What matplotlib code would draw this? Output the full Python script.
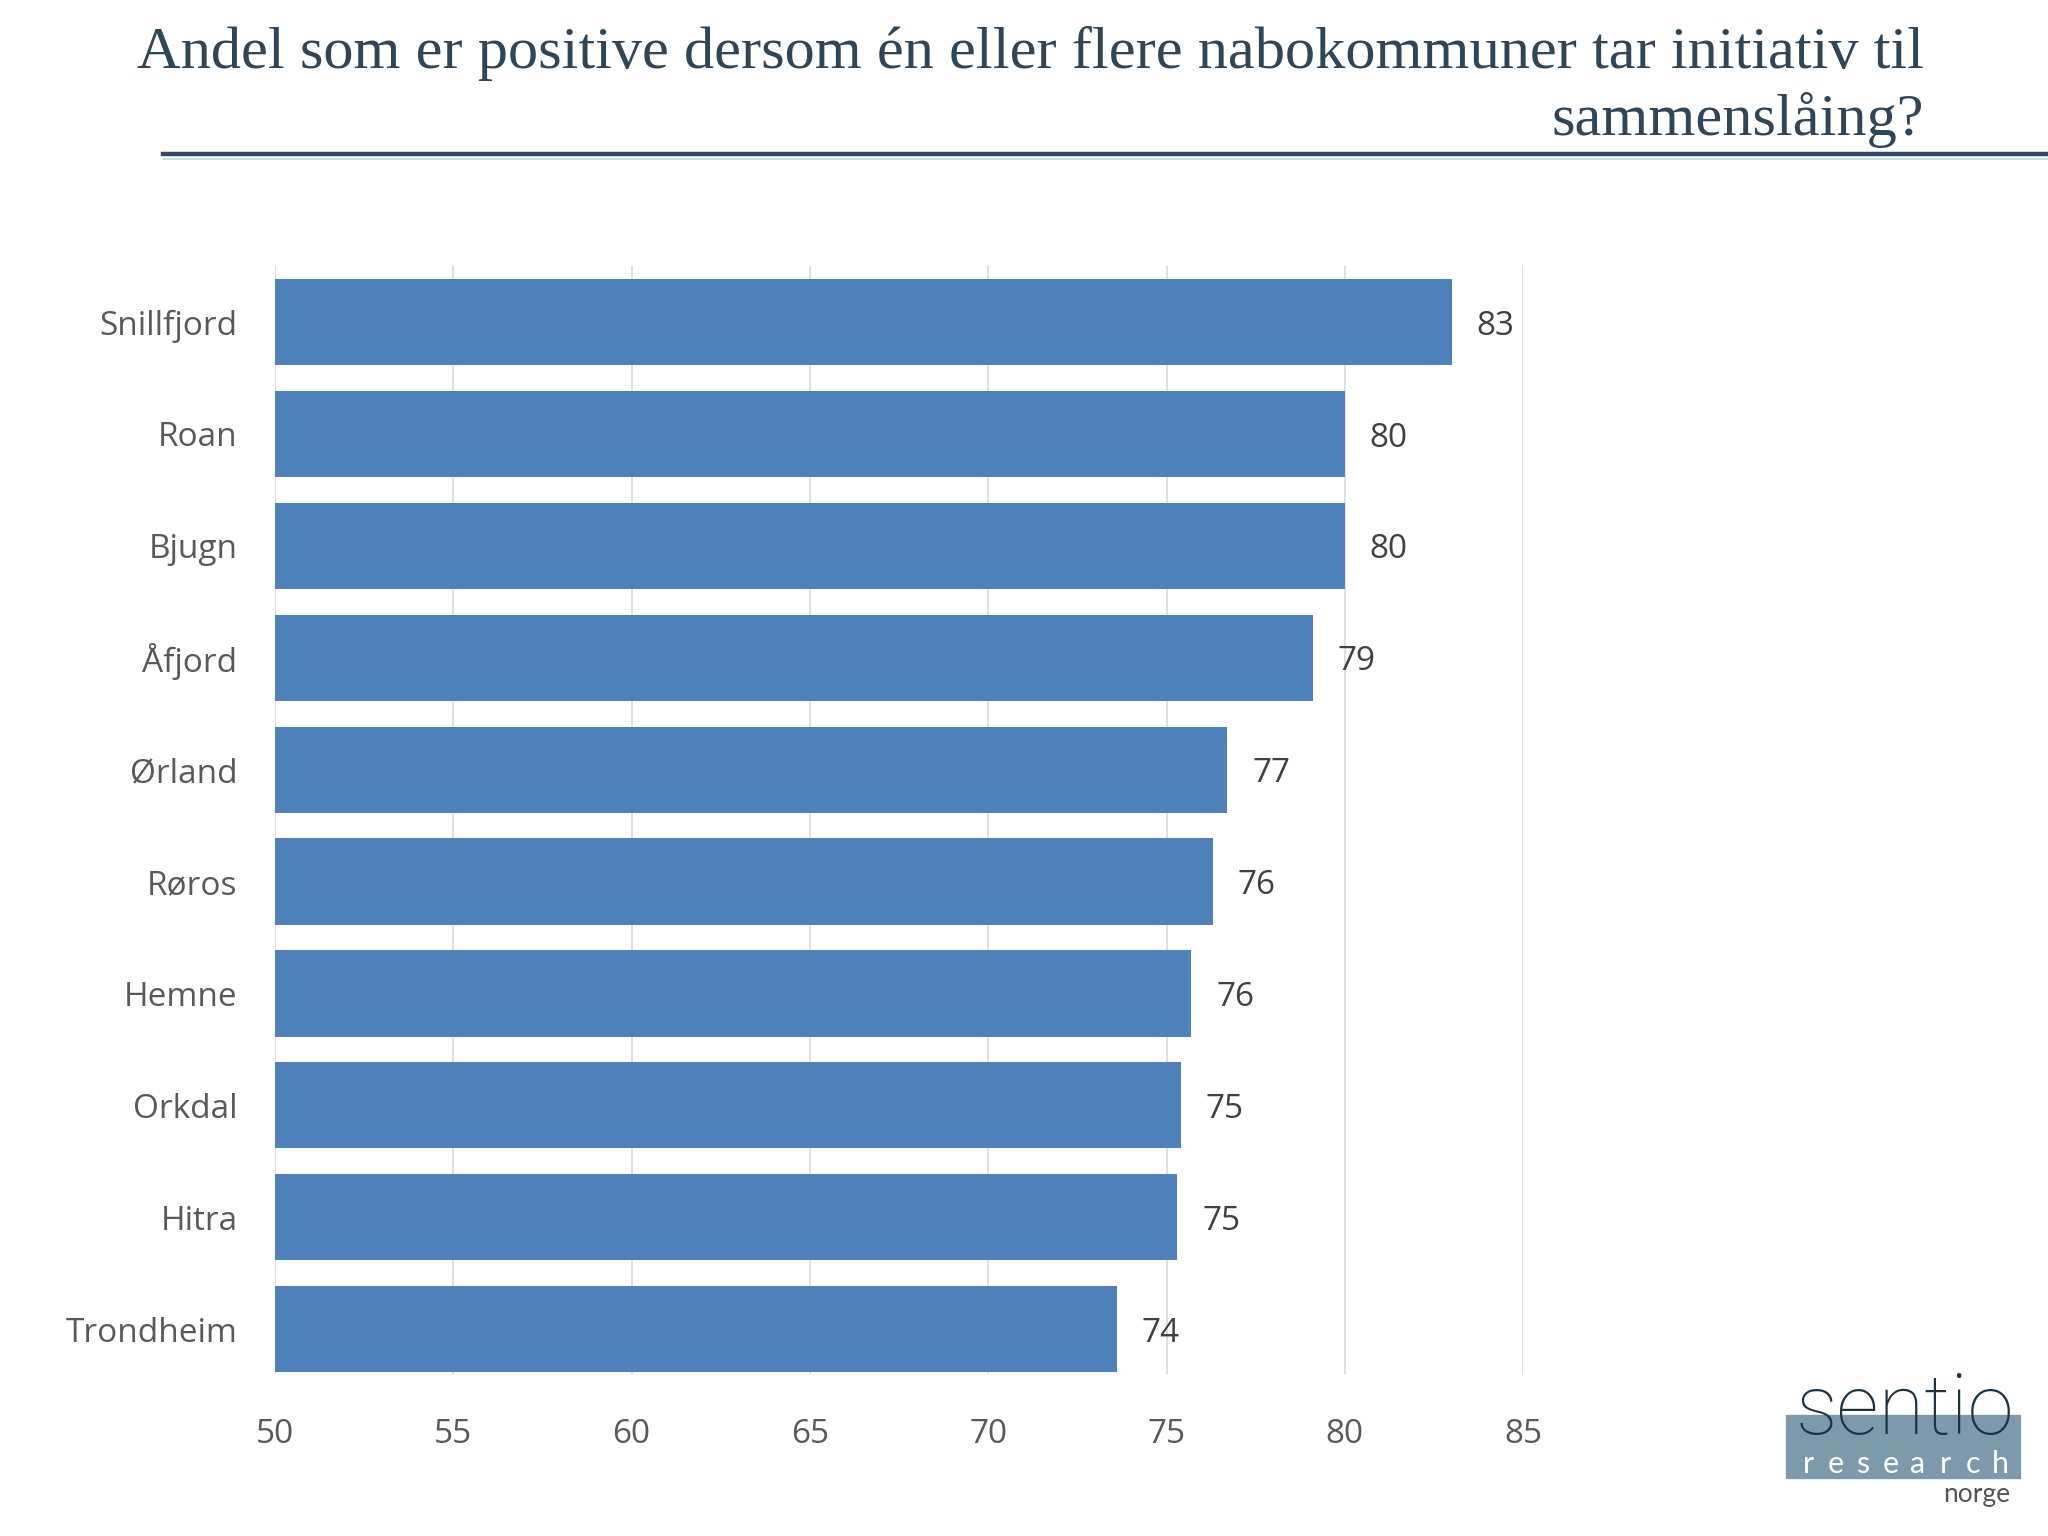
import matplotlib.pyplot as plt
from matplotlib.lines import Line2D
from matplotlib.patches import Rectangle

municipalities = ["Snillfjord", "Roan", "Bjugn", "Åfjord", "Ørland",
                  "Røros", "Hemne", "Orkdal", "Hitra", "Trondheim"]
shares = [83.0, 80.0, 80.0, 79.1, 76.7, 76.3, 75.7, 75.4, 75.3, 73.6]
x_ticks = [50, 55, 60, 65, 70, 75, 80, 85]

title_line1 = "Andel som er positive dersom én eller flere nabokommuner tar initiativ til"
title_line2 = "sammenslåing?"

bar_color = "#4F81BD"
grid_color = "#D9D9D9"
label_font = ["Open Sans", "DejaVu Sans"]

fig = plt.figure(figsize=(20.48, 15.36), dpi=100)
ax = fig.add_axes([0.1343, 0.1055, 0.6094, 0.7213])

pos = list(range(len(municipalities)))
ax.barh(pos, shares, height=0.77, color=bar_color, zorder=2)

for i, v in enumerate(shares):
    ax.annotate(f"{round(v)}", xy=(v, i), xytext=(18, -3),
                textcoords="offset points", va="center", ha="left",
                fontsize=24, color="#404040", family=label_font)

ax.set_xlim(50, 85)
ax.set_ylim(9.4, -0.5)
ax.set_xticks(x_ticks)
ax.set_yticks(pos)
ax.set_yticklabels(municipalities)
ax.tick_params(axis="both", length=0, labelsize=24, labelcolor="#595959")
ax.tick_params(axis="y", pad=27)
ax.tick_params(axis="x", pad=32)
for lab in ax.get_xticklabels() + ax.get_yticklabels():
    lab.set_family(label_font)

ax.grid(axis="x", color=grid_color, linewidth=1.2, zorder=0)
ax.grid(axis="y", visible=False)
for s in ax.spines.values():
    s.set_visible(False)

# title, right aligned over two lines
fig.text(0.9395, 0.9557, title_line1, ha="right", va="baseline",
         fontsize=43.5, color="#2F4558", family="Liberation Serif")
fig.text(0.9395, 0.912, title_line2, ha="right", va="baseline",
         fontsize=43.5, color="#2F4558", family="Liberation Serif")

fig.add_artist(Line2D([0.0796, 1.0], [0.8995, 0.8995], color="#2E4A62",
                      linewidth=3.2, transform=fig.transFigure))
fig.add_artist(Line2D([0.0796, 1.0], [0.8965, 0.8965], color="#B7DCEF",
                      linewidth=1.2, transform=fig.transFigure))

# sentio research logo
fig.add_artist(Rectangle((1786 / 2048, 1 - 1478 / 1536), 234 / 2048, 63 / 1536,
                         color="#7D9AAD", transform=fig.transFigure))
fig.text(1905 / 2048, 1 - 1434 / 1536, "sentio", ha="center", va="baseline",
         fontsize=60, color="#1B3444", family="Roboto", weight="light")
for k, ch in enumerate("research"):
    fig.text((1808 + k * 27.5) / 2048, 1 - 1473 / 1536, ch, ha="center",
             va="baseline", fontsize=22, color="white", family="Lato")
fig.text(2010 / 2048, 1 - 1502 / 1536, "norge", ha="right", va="baseline",
         fontsize=19, color="#555555", family="Lato")

fig.savefig("out.png", dpi=100)
